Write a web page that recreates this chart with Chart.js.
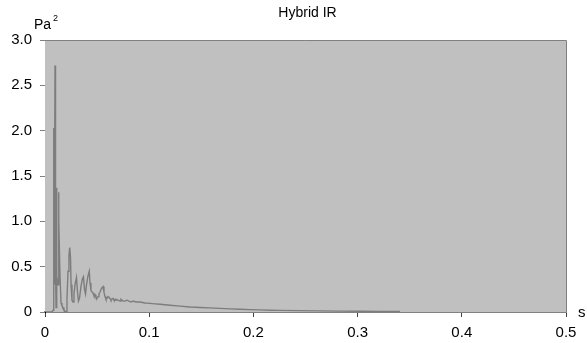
<!DOCTYPE html>
<html>
<head>
<meta charset="utf-8">
<script src="https://cdn.jsdelivr.net/npm/chart.js"></script>
<style>
  html, body { margin: 0; padding: 0; background: #fff; }
  #wrap { width: 587px; height: 343px; }
</style>
</head>
<body>
<div id="wrap"><canvas id="irChart" width="587" height="343"></canvas></div>
<script>
// time axis (s)
const times = [
  0, 0.0067, 0.0077, 0.0082, 0.0086, 0.0089, 0.0096, 0.0101, 0.0106, 0.0110,
  0.0115, 0.0125, 0.0130, 0.0134, 0.0144, 0.0154, 0.0163, 0.0173, 0.0182, 0.0192,
  0.0202, 0.0211, 0.0221, 0.0230, 0.0237, 0.0245, 0.0250, 0.0259, 0.0269, 0.0278,
  0.0288, 0.0302, 0.0312, 0.0321, 0.0331, 0.0345, 0.0360, 0.0369, 0.0379, 0.0389,
  0.0398, 0.0413, 0.0425, 0.0432, 0.0441, 0.0451, 0.0461, 0.0470, 0.0480, 0.0489,
  0.0499, 0.0509, 0.0518, 0.0528, 0.0542, 0.0557, 0.0566, 0.0576, 0.0585, 0.0595,
  0.0605, 0.0614, 0.0624, 0.0633, 0.0643, 0.0653, 0.0662, 0.0672, 0.0681, 0.0701,
  0.0720, 0.0729, 0.0749, 0.0768, 0.0787, 0.0806, 0.0825, 0.0845, 0.0873, 0.0912,
  0.0960, 0.1008, 0.1056, 0.1104, 0.1152, 0.1200, 0.1296, 0.1392, 0.1488, 0.1583,
  0.1679, 0.1775, 0.1871, 0.1967, 0.2063, 0.2159, 0.2255, 0.2447, 0.2639, 0.2831,
  0.3023, 0.3215, 0.3407
];
// squared pressure (Pa^2)
const energy = [
  0, 0, 0.02, 0.68, 2.03, 0.30, 2.72, 0.50, 0.05, 1.37,
  0.40, 0.30, 1.32, 1.00, 0.39, 0.10, 0.07, 0.05, 0.02, 0.01,
  0.00, 0.15, 0.45, 0.62, 0.71, 0.60, 0.30, 0.13, 0.11, 0.20,
  0.30, 0.38, 0.22, 0.12, 0.15, 0.28, 0.37, 0.39, 0.25, 0.20,
  0.30, 0.40, 0.45, 0.32, 0.24, 0.22, 0.21, 0.18, 0.19, 0.16,
  0.15, 0.17, 0.20, 0.22, 0.26, 0.28, 0.22, 0.17, 0.14, 0.15,
  0.17, 0.16, 0.15, 0.13, 0.14, 0.15, 0.13, 0.13, 0.14, 0.13,
  0.12, 0.14, 0.12, 0.12, 0.13, 0.12, 0.11, 0.12, 0.11, 0.11,
  0.10, 0.095, 0.09, 0.085, 0.08, 0.075, 0.065, 0.055, 0.05, 0.045,
  0.04, 0.035, 0.03, 0.026, 0.023, 0.02, 0.018, 0.015, 0.012, 0.01,
  0.008, 0.006, 0.005
];
const yTickLabels = ['0', '0.5', '1.0', '1.5', '2.0', '2.5', '3.0'];
const xTickLabels = ['0', '0.1', '0.2', '0.3', '0.4', '0.5'];

const FONT = "'Liberation Sans', Arial, sans-serif";

// grey plot area, frame and the extra text (title, units)
const framePlugin = {
  id: 'frame',
  beforeDatasetsDraw(chart) {
    const { ctx, chartArea: a } = chart;
    ctx.save();
    ctx.fillStyle = '#c0c0c0';
    ctx.fillRect(a.left, a.top, a.right - a.left, a.bottom - a.top);
    ctx.strokeStyle = '#808080';
    ctx.lineWidth = 1;
    ctx.beginPath();
    ctx.moveTo(a.left, a.top + 0.5);
    ctx.lineTo(a.right + 0.5, a.top + 0.5);
    ctx.lineTo(a.right + 0.5, a.bottom);
    ctx.stroke();
    ctx.restore();
  },
  afterDraw(chart) {
    const { ctx, chartArea: a } = chart;
    ctx.save();
    ctx.fillStyle = '#000';
    ctx.textBaseline = 'alphabetic';
    ctx.textAlign = 'center';
    ctx.font = '14px ' + FONT;
    ctx.fillText('Hybrid IR', (a.left + a.right) / 2 + 2, 17);
    ctx.textAlign = 'left';
    ctx.font = '14px ' + FONT;
    ctx.fillText('Pa', 34, 29);
    ctx.font = '9px ' + FONT;
    ctx.fillText('2', 53, 21);
    ctx.font = '15px ' + FONT;
    ctx.fillText('s', 578, a.bottom + 5);
    ctx.restore();
  }
};

new Chart(document.getElementById('irChart'), {
  type: 'line',
  data: {
    datasets: [{
      data: times.map((t, i) => ({ x: t, y: energy[i] })),
      borderColor: '#7d7d7d',
      borderWidth: 1.4,
      pointRadius: 0,
      tension: 0,
      fill: false
    }]
  },
  options: {
    responsive: false,
    animation: false,
    layout: { padding: { top: 40, right: 21, left: 0, bottom: 0 } },
    plugins: { legend: { display: false }, tooltip: { enabled: false } },
    scales: {
      x: {
        type: 'linear',
        min: 0, max: 0.5,
        afterFit(s) { s.height = 31; },
        afterBuildTicks(s) { s.ticks = xTickLabels.map(v => ({ value: parseFloat(v) })); },
        ticks: {
          callback: (v, i) => xTickLabels[i],
          font: { family: FONT, size: 15 },
          color: '#000',
          padding: 7,
          maxRotation: 0
        },
        grid: { drawOnChartArea: false, tickLength: 5, color: '#404040' },
        border: { color: '#808080', width: 2 }
      },
      y: {
        min: 0, max: 3,
        afterFit(s) { s.width = 45; },
        afterBuildTicks(s) { s.ticks = yTickLabels.map(v => ({ value: parseFloat(v) })); },
        ticks: {
          callback: (v, i) => yTickLabels[i],
          font: { family: FONT, size: 15 },
          color: '#000',
          padding: 8
        },
        grid: { drawOnChartArea: false, tickLength: 5, color: '#808080' },
        border: { color: '#000', width: 1 }
      }
    }
  },
  plugins: [framePlugin]
});
</script>
</body>
</html>
